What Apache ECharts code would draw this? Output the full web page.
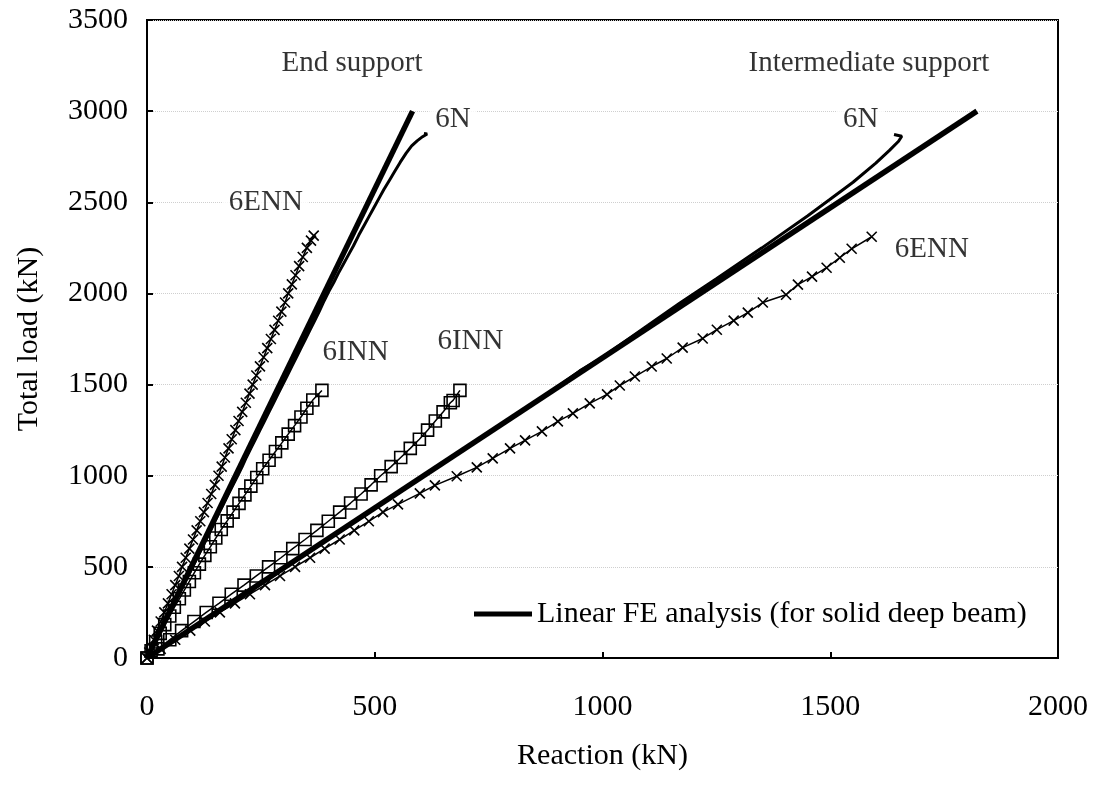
<!DOCTYPE html>
<html>
<head>
<meta charset="utf-8">
<title>Total load vs reaction</title>
<script src="https://cdn.jsdelivr.net/npm/echarts@6/dist/echarts.min.js"></script>
<style>
  html, body { margin: 0; padding: 0; background: #fff; }
  #chart { width: 1095px; height: 785px; }
</style>
</head>
<body>
<div id="chart"></div>
<script>
// Reaction (kN) vs total load (kN), pairs of [reaction, load]
const feEnd = [[0, 0], [583, 3000]];
const feInter = [[0, 0], [1822, 3000]];

const n6End = [[0,0],[8,50],[20,100],[30,150],[40,200],[50,250],[60,300],[70,350],[80,400],[90,450],[100,500],[110,550],[120,600],[130,650],[140,700],[149,750],[159,800],[169,850],[179,900],[189,950],[199,1000],[209,1050],[218,1100],[228,1150],[238,1200],[248,1250],[258,1300],[268,1350],[278,1400],[288,1450],[298,1500],[308,1550],[318,1600],[328,1650],[338,1700],[348,1750],[358,1800],[368,1850],[378,1900],[389,1960],[399,2010],[410,2060],[420,2110],[431,2160],[442,2210],[453,2260],[465,2320],[476,2370],[487,2420],[498,2470],[509,2520],[520,2570],[532,2620],[544,2670],[556,2720],[569,2770],[581,2810],[593,2837],[605,2860],[615,2875],[608,2878]];

const n6Inter = [[0,0],[100,160],[200,322],[300,490],[400,655],[500,820],[600,985],[700,1150],[800,1315],[900,1485],[950,1575],[1000,1650],[1100,1825],[1170,1948],[1250,2080],[1350,2250],[1450,2425],[1499,2515],[1550,2610],[1600,2715],[1630,2785],[1650,2835],[1657,2862],[1640,2872]];

const enn6End = [[0,0],[5,30],[10,60],[15,100],[22,150],[30,200],[38,250],[46,300],[54,350],[62,400],[70,450],[77,500],[85,550],[93,600],[101,650],[109,700],[117,750],[125,800],[133,850],[141,900],[149,950],[157,1000],[164,1050],[171,1100],[179,1150],[186,1200],[194,1250],[201,1300],[209,1350],[217,1400],[225,1450],[232,1500],[240,1550],[248,1600],[256,1650],[264,1700],[272,1750],[280,1800],[288,1850],[295,1900],[303,1950],[310,2000],[318,2050],[326,2100],[334,2150],[342,2200],[351,2250],[360,2290],[366,2317]];

const enn6Inter = [[0,0],[30,50],[62,100],[95,150],[127,200],[160,250],[193,300],[226,350],[259,400],[292,450],[325,500],[358,550],[390,600],[423,650],[455,700],[487,750],[518,800],[551,843],[599,903],[632,947],[680,997],[724,1046],[759,1095],[797,1150],[830,1194],[867,1243],[902,1298],[935,1342],[972,1397],[1010,1446],[1038,1495],[1071,1544],[1108,1599],[1141,1643],[1176,1703],[1220,1753],[1251,1801],[1288,1851],[1319,1895],[1352,1950],[1403,1993],[1429,2048],[1460,2092],[1492,2141],[1521,2196],[1547,2245],[1591,2311]];

const inn6End = [[0,0],[9,40],[19,88],[29,135],[39,183],[50,230],[60,278],[71,325],[82,373],[93,420],[104,468],[115,515],[127,563],[139,610],[151,658],[163,705],[176,752],[189,800],[202,848],[215,895],[228,943],[241,990],[254,1038],[268,1085],[282,1133],[296,1180],[310,1228],[324,1275],[338,1322],[351,1370],[364,1415],[384,1468]];

const inn6Inter = [[0,0],[24,50],[50,100],[76,150],[103,200],[130,250],[158,300],[185,350],[213,400],[240,450],[267,500],[294,550],[320,600],[347,650],[373,700],[398,750],[423,800],[447,850],[470,900],[492,950],[513,1000],[536,1050],[557,1100],[578,1150],[598,1200],[616,1250],[633,1300],[650,1350],[666,1400],[672,1413],[687,1468]];

// Tick values for both axes
const xTicks = [0, 500, 1000, 1500, 2000];
const yTicks = [0, 500, 1000, 1500, 2000, 2500, 3000, 3500];

// Text notes placed at [reaction, load]
const noteText = ['End support', 'Intermediate support', '6N', '6N', '6ENN', '6ENN', '6INN', '6INN'];
const noteAt = [[450, 3260], [1585, 3260], [672, 2957], [1567, 2957], [261, 2497], [1723, 2240], [458, 1676], [710, 1735]];

const FE_NAME = 'Linear FE analysis (for solid deep beam)';
const FONT = '"Liberation Serif", "Times New Roman", serif';
const crossPath = 'path://M0,0L10,10M10,0L0,10';

const chart = echarts.init(document.getElementById('chart'), null, { renderer: 'canvas' });

function markerSeries(name, data, symbol) {
  const isCross = symbol === 'cross';
  return {
    name: name,
    type: 'line',
    data: data,
    symbol: isCross ? crossPath : 'rect',
    symbolSize: isCross ? 10 : 12,
    showAllSymbol: true,
    lineStyle: { color: '#000', width: 1.5 },
    itemStyle: { color: 'rgba(0,0,0,0)', borderColor: '#000', borderWidth: 1.6 },
    emphasis: { disabled: true },
    animation: false,
    z: 3
  };
}

function plainSeries(name, data, width, z) {
  return {
    name: name,
    type: 'line',
    data: data,
    symbol: 'none',
    lineStyle: { color: '#000', width: width },
    itemStyle: { color: '#000' },
    emphasis: { disabled: true },
    animation: false,
    z: z
  };
}

const plainNumber = v => String(v);

const option = {
  animation: false,
  backgroundColor: '#fff',
  textStyle: { fontFamily: FONT, color: '#000' },
  grid: {
    left: 147, right: 37, top: 20, bottom: 127,
    show: true, borderColor: '#000', borderWidth: 2, backgroundColor: 'transparent'
  },
  legend: {
    data: [FE_NAME],
    left: 469, top: 594,
    icon: 'rect',
    itemWidth: 58, itemHeight: 5, itemGap: 10,
    textStyle: { fontFamily: FONT, fontSize: 30, color: '#000' },
    selectedMode: false
  },
  xAxis: {
    type: 'value', min: xTicks[0], max: xTicks[xTicks.length - 1], interval: 500,
    name: 'Reaction (kN)', nameLocation: 'middle', nameGap: 83,
    nameTextStyle: { fontFamily: FONT, fontSize: 30, color: '#000' },
    axisLine: { show: true, lineStyle: { color: '#000', width: 2 } },
    axisTick: { show: true, inside: true, length: 6, lineStyle: { color: '#000', width: 2 } },
    axisLabel: { fontFamily: FONT, fontSize: 30, color: '#000', margin: 34, formatter: plainNumber },
    splitLine: { show: false }
  },
  yAxis: {
    type: 'value', min: yTicks[0], max: yTicks[yTicks.length - 1], interval: 500,
    name: 'Total load (kN)', nameLocation: 'middle', nameGap: 103,
    nameTextStyle: { fontFamily: FONT, fontSize: 30, color: '#000' },
    axisLine: { show: true, lineStyle: { color: '#000', width: 2 } },
    axisTick: { show: true, inside: true, length: 6, lineStyle: { color: '#000', width: 2 } },
    axisLabel: { fontFamily: FONT, fontSize: 30, color: '#000', margin: 19, formatter: plainNumber },
    splitLine: { show: true, lineStyle: { color: '#cfcfcf', width: 1, type: 'dotted' } }
  },
  series: [
    {
      name: 'notes',
      type: 'scatter',
      data: noteAt.map((p, i) => ({ value: p, name: noteText[i] })),
      symbolSize: 0,
      silent: true,
      z: 1,
      label: {
        show: true, position: 'inside',
        formatter: p => p.name,
        fontFamily: FONT, fontSize: 29, color: '#000',
        backgroundColor: '#fff', padding: [0, 6]
      }
    },
    plainSeries(FE_NAME, feEnd, 5.5, 4),
    plainSeries(FE_NAME, feInter, 5.5, 4),
    plainSeries('6N end', n6End, 3, 5),
    plainSeries('6N intermediate', n6Inter, 3, 5),
    markerSeries('6ENN end', enn6End, 'cross'),
    markerSeries('6ENN intermediate', enn6Inter, 'cross'),
    markerSeries('6INN end', inn6End, 'square'),
    markerSeries('6INN intermediate', inn6Inter, 'square')
  ]
};

chart.setOption(option);
</script>
</body>
</html>
